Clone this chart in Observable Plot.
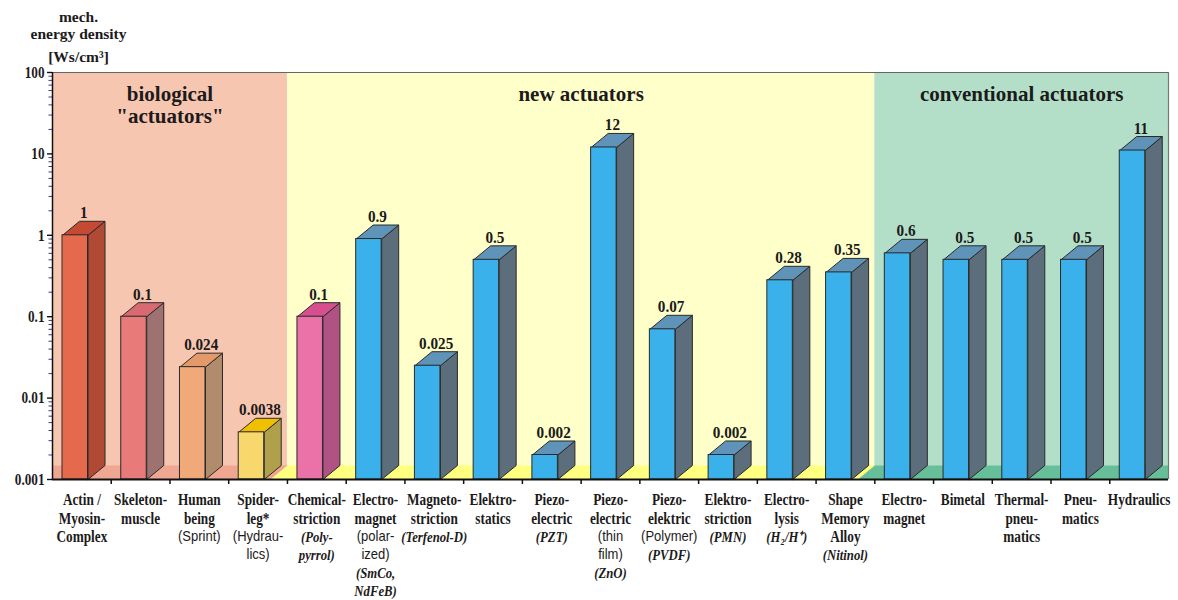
<!DOCTYPE html>
<html><head><meta charset="utf-8">
<script src="https://cdn.jsdelivr.net/npm/d3@7"></script>
<script src="https://cdn.jsdelivr.net/npm/@observablehq/plot@0.6"></script>
<style>body{margin:0;background:#fff} svg{display:block}</style>
</head><body><div id="chart"></div>
<script>
// ---------- data ----------
const categories = ["Actin / Myosin-Complex","Skeleton-muscle","Human being (Sprint)","Spider-leg* (Hydraulics)",
  "Chemical-striction (Polypyrrol)","Electro-magnet (polarized) (SmCo, NdFeB)","Magneto-striction (Terfenol-D)",
  "Elektro-statics","Piezo-electric (PZT)","Piezo-electric (thin film) (ZnO)","Piezo-elektric (Polymer) (PVDF)",
  "Elektro-striction (PMN)","Electro-lysis (H2/H+)","Shape Memory Alloy (Nitinol)","Electro-magnet","Bimetal",
  "Thermal-pneumatics","Pneumatics","Hydraulics"];
const values = [1,0.1,0.024,0.0038,0.1,0.9,0.025,0.5,0.002,12,0.07,0.002,0.28,0.35,0.6,0.5,0.5,0.5,11];
const valueLabels = ["1","0.1","0.024","0.0038","0.1","0.9","0.025","0.5","0.002","12","0.07","0.002","0.28","0.35","0.6","0.5","0.5","0.5","11"];
const labelLines = [
  [["Actin /","b"],["Myosin-","b"],["Complex","b"]],
  [["Skeleton-","b"],["muscle","b"]],
  [["Human","b"],["being","b"],["(Sprint)","s"]],
  [["Spider-","b"],["leg*","b"],["(Hydrau-","s"],["lics)","s"]],
  [["Chemical-","b"],["striction","b"],["(Poly-","i"],["pyrrol)","i"]],
  [["Electro-","b"],["magnet","b"],["(polar-","s"],["ized)","s"],["(SmCo,","i"],["NdFeB)","i"]],
  [["Magneto-","b"],["striction","b"],["(Terfenol-D)","i"]],
  [["Elektro-","b"],["statics","b"]],
  [["Piezo-","b"],["electric","b"],["(PZT)","i"]],
  [["Piezo-","b"],["electric","b"],["(thin","s"],["film)","s"],["(ZnO)","i"]],
  [["Piezo-","b"],["elektric","b"],["(Polymer)","s"],["(PVDF)","i"]],
  [["Elektro-","b"],["striction","b"],["(PMN)","i"]],
  [["Electro-","b"],["lysis","b"],["(H\u2082/H\u207A)","i"]],
  [["Shape","b"],["Memory","b"],["Alloy","b"],["(Nitinol)","i"]],
  [["Electro-","b"],["magnet","b"]],
  [["Bimetal","b"]],
  [["Thermal-","b"],["pneu-","b"],["matics","b"]],
  [["Pneu-","b"],["matics","b"]],
  [["Hydraulics","b"]]
];
const groupNames = ["biological\n\"actuators\"","new actuators","conventional actuators"];
const groupStart = [0,4,14];
const groupEnd = [4,14,19];
const groupBg = ["#f6c6b1","#ffffca","#b3dfc9"];
const groupFloor = ["#f0a792","#ffff80","#66bf99"];
const frontColors = ["#e5694d","#e87a7a","#f0a979","#f8d76d","#ea72a9",
  ...Array(14).fill("#3ab1ea")];
const sideColors = ["#b04a34","#9e7270","#b08b6c","#b0a04c","#b05283",
  ...Array(14).fill("#5c6e7c")];
const topColors = ["#c44a33","#d86b72","#e3996a","#f0c000","#d6508f",
  ...Array(14).fill("#6093b8")];
const yTickValues = [0.001,0.01,0.1,1,10,100];
const yTickLabels = ["0.001","0.01","0.1","1","10","100"];
const yTitle = ["mech.","energy density","[Ws/cm\u00B3]"];

// ---------- layout ----------
const W = 1178, H = 600, mL = 52, mR = 10, mT = 72, mB = 121;
const bandPx = (W - mL - mR) / categories.length;
const decadePx = (H - mT - mB) / 5;
const yMin = 0.001, yMax = 100;
const off = 10 / bandPx, bw = 25.5 / bandPx, dep = 17 / bandPx;
const kUp = Math.pow(10, 14 / decadePx);
const ink = "#1c1a1a";
const edge = "#2a2a2a";

const bars = values.map((v, i) => ({i, v, label: valueLabels[i], front: frontColors[i]}));
const poly = (id, fill, pts) => pts.concat([pts[0]]).map(([x, y]) => ({x, y, id, fill}));
const sides = bars.flatMap(b => {
  const x0 = b.i + off + bw;
  return poly("s" + b.i, sideColors[b.i], [[x0, yMin], [x0 + dep, yMin * kUp], [x0 + dep, b.v * kUp], [x0, b.v]]);
});
const tops = bars.flatMap(b => {
  const x0 = b.i + off;
  return poly("t" + b.i, topColors[b.i], [[x0, b.v], [x0 + bw, b.v], [x0 + bw + dep, b.v * kUp], [x0 + dep, b.v * kUp]]);
});
const groups = groupNames.map((name, g) => ({name, start: groupStart[g], end: groupEnd[g], bg: groupBg[g], floor: groupFloor[g]}));
const floors = groups.flatMap((g, gi) => {
  const bl = gi === 0 ? g.start : g.start - dep;
  const br = gi === groups.length - 1 ? g.end : g.end - dep;
  return poly("f" + gi, g.floor, [[g.start, yMin * kUp], [g.end, yMin * kUp], [br, yMin], [bl, yMin]]);
});
const minorTicks = [];
for (let e = -3; e < 2; e++) for (let m = 2; m <= 9; m++) minorTicks.push(m * Math.pow(10, e));

const labelRows = labelLines.flatMap((lines, i) => lines.map(([text, style], line) => ({x: i + 0.5, line, text, style})));
const styleDefs = {
  b: {fontFamily: "'Liberation Serif', serif", fontWeight: "bold", fontSize: 17, sx: 0.78, extra: 0},
  s: {fontFamily: "'Liberation Sans', sans-serif", fontWeight: "normal", fontSize: 14, sx: 0.93, extra: 0},
  i: {fontFamily: "'Liberation Serif', serif", fontWeight: "bold", fontStyle: "italic", fontSize: 15, sx: 0.85, extra: 1}
};
const labelMarks = [];
for (const st of Object.keys(styleDefs)) {
  const def = styleDefs[st];
  for (let line = 0; line < 6; line++) {
    const rows = labelRows.filter(r => r.style === st && r.line === line);
    if (!rows.length) continue;
    labelMarks.push(Plot.text(rows, {
      x: "x", y: () => yMin, text: "text", dy: 20.5 + 18.1 * line + def.extra, lineAnchor: "middle",
      fontFamily: def.fontFamily, fontWeight: def.fontWeight, fontStyle: def.fontStyle || "normal",
      fontSize: def.fontSize, fill: ink, ariaDescription: "sx=" + def.sx
    }));
  }
}

const serif = "'Liberation Serif', serif";
const chart = Plot.plot({
  width: W, height: H,
  marginLeft: mL, marginRight: mR, marginTop: mT, marginBottom: mB,
  x: {domain: [0, categories.length], axis: null},
  y: {type: "log", domain: [yMin, yMax], axis: null},
  color: {type: "identity"},
  style: {background: "white"},
  marks: [
    Plot.rect(groups, {x1: "start", x2: "end", y1: () => yMin, y2: () => yMax, fill: "bg"}),
    Plot.line(floors, {x: "x", y: "y", z: "id", fill: "fill", stroke: "none"}),
    Plot.text(groups, {x: d => (d.start + d.end) / 2, y: () => yMax, text: "name", lineAnchor: "top", dy: 12.5,
      lineHeight: 1.05, fontFamily: serif, fontWeight: "bold", fontSize: 21, fill: ink}),
    Plot.line(sides, {x: "x", y: "y", z: "id", fill: "fill", stroke: edge, strokeWidth: 1, strokeLinejoin: "miter"}),
    Plot.line(tops, {x: "x", y: "y", z: "id", fill: "fill", stroke: edge, strokeWidth: 1, strokeLinejoin: "miter"}),
    Plot.rect(bars, {x1: d => d.i + off, x2: d => d.i + off + bw, y1: () => yMin, y2: "v", fill: "front", stroke: edge, strokeWidth: 1}),
    Plot.text(bars, {x: d => d.i + off + bw / 2 + dep / 2, y: d => d.v * kUp, text: "label", lineAnchor: "bottom", dy: -3,
      fontFamily: serif, fontWeight: "bold", fontSize: 16, fill: ink, ariaDescription: "sx=0.95"}),
    // frame
    Plot.ruleY([yMax], {x1: 0, x2: categories.length, stroke: "#666", strokeWidth: 1.2}),
    Plot.ruleX([categories.length], {y1: yMin, y2: yMax, stroke: "#777", strokeWidth: 1.2}),
    Plot.ruleY(minorTicks, {y: d => d, x1: -3.5 / bandPx, x2: 0, stroke: "#3b3b8f", strokeWidth: 1}),
    Plot.ruleY(yTickValues, {y: d => d, x1: -5 / bandPx, x2: 0, stroke: "#111", strokeWidth: 1.4}),
    Plot.ruleX([0], {y1: yMin, y2: yMax, stroke: "#111", strokeWidth: 1.5}),
    Plot.ruleX(d3.range(1, categories.length), {x: d => d, y1: () => yMin, y2: () => yMin * Math.pow(10, -5 / decadePx), stroke: "#111", strokeWidth: 1.5}),
    Plot.ruleY([yMin], {x1: 0, x2: categories.length, stroke: "#111", strokeWidth: 2}),
    Plot.text(yTickValues, {x: () => 0, y: d => d, text: (d, i) => yTickLabels[i], textAnchor: "end", dx: -8, lineAnchor: "middle",
      fontFamily: serif, fontWeight: "bold", fontSize: 16.5, fill: ink, ariaDescription: "sx=0.8"}),
    Plot.text([yTitle[0]], {x: () => 0, y: () => yMax, text: d => d, dx: 26, dy: -55, lineAnchor: "middle", fontFamily: serif, fontWeight: "bold", fontSize: 15.5, fill: ink}),
    Plot.text([yTitle[1]], {x: () => 0, y: () => yMax, text: d => d, dx: 26, dy: -38, lineAnchor: "middle", fontFamily: serif, fontWeight: "bold", fontSize: 15.5, fill: ink}),
    Plot.text([yTitle[2]], {x: () => 0, y: () => yMax, text: d => d, dx: 26, dy: -15, lineAnchor: "middle", fontFamily: serif, fontWeight: "bold", fontSize: 15.5, fill: ink}),
    ...labelMarks
  ]
});

// horizontal condensing of the narrow Times-like lettering
chart.querySelectorAll('g[aria-description^="sx="]').forEach(g => {
  const s = +g.getAttribute("aria-description").slice(3);
  g.removeAttribute("aria-description");
  g.querySelectorAll("text").forEach(t => {
    const tr = t.getAttribute("transform");
    if (tr) t.setAttribute("transform", tr + ` scale(${s},1)`);
    else {
      const x = t.getAttribute("x") || 0, y = t.getAttribute("y") || 0;
      t.setAttribute("transform", `translate(${x},${y}) scale(${s},1)`);
      t.removeAttribute("x"); t.removeAttribute("y");
    }
  });
});
document.getElementById("chart").appendChild(chart);
</script>
</body></html>
